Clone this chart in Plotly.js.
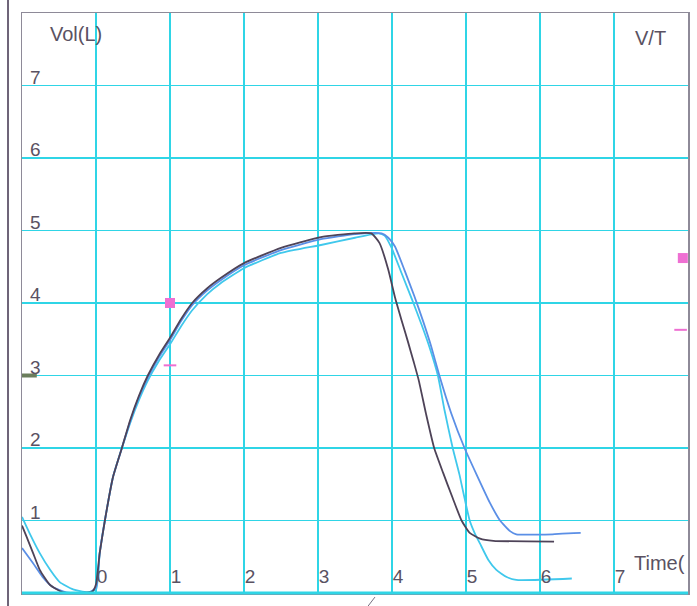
<!DOCTYPE html>
<html>
<head>
<meta charset="utf-8">
<script src="https://cdn.plot.ly/plotly-3.0.1.min.js"></script>
<style>html,body{margin:0;padding:0;background:#fff;}#chart{width:697px;height:606px;}</style>
</head>
<body>
<div id="chart"></div>
<script>
// ---- data (time in s, volume in L) ----
const darkX = [-1, -0.94, -0.85, -0.76, -0.62, -0.45, -0.2, -0.05, 0, 0.05, 0.12, 0.23, 0.35, 0.46, 0.58, 0.7, 0.85, 1.0, 1.15, 1.3, 1.5, 1.68, 2.0, 2.5, 2.77, 3.04, 3.49, 3.72, 3.83, 3.95, 4.04, 4.13, 4.22, 4.29, 4.36, 4.46, 4.57, 4.69, 4.82, 4.94, 5.05, 5.19, 5.37, 6.19];
const darkY = [0.93, 0.78, 0.55, 0.32, 0.11, 0.01, 0.0, 0.02, 0.12, 0.55, 1.0, 1.6, 2.0, 2.38, 2.72, 3.0, 3.28, 3.52, 3.78, 4.0, 4.2, 4.34, 4.55, 4.76, 4.84, 4.91, 4.96, 4.96, 4.83, 4.46, 4.08, 3.76, 3.45, 3.2, 2.94, 2.47, 2.0, 1.66, 1.31, 1.0, 0.83, 0.75, 0.72, 0.71];

const cyanX = [-1, -0.9, -0.76, -0.62, -0.49, -0.31, -0.12, 0, 0.05, 0.12, 0.23, 0.35, 0.46, 0.58, 0.7, 0.85, 1.0, 1.15, 1.3, 1.5, 1.68, 2.0, 2.5, 3.04, 3.5, 3.82, 3.9, 3.99, 4.13, 4.27, 4.4, 4.51, 4.62, 4.71, 4.82, 4.91, 4.98, 5.05, 5.12, 5.19, 5.3, 5.41, 5.55, 5.68, 6.43];
const cyanY = [1.05, 0.83, 0.55, 0.32, 0.15, 0.05, 0.01, 0.05, 0.55, 1.0, 1.6, 2.0, 2.34, 2.66, 2.93, 3.2, 3.43, 3.68, 3.9, 4.12, 4.27, 4.48, 4.69, 4.8, 4.9, 4.96, 4.93, 4.77, 4.41, 4.05, 3.7, 3.38, 3.0, 2.52, 2.0, 1.64, 1.31, 1.0, 0.82, 0.68, 0.46, 0.32, 0.22, 0.18, 0.2];

const blueX = [-1, -0.85, -0.72, -0.58, -0.4, -0.1, 0, 0.05, 0.12, 0.23, 0.35, 0.46, 0.58, 0.7, 0.85, 1.0, 1.15, 1.3, 1.5, 1.68, 2.0, 2.5, 3.04, 3.5, 3.86, 3.95, 4.04, 4.17, 4.3, 4.42, 4.53, 4.64, 4.8, 4.98, 5.14, 5.32, 5.46, 5.6, 5.68, 6.17, 6.3, 6.55];
const blueY = [0.62, 0.41, 0.22, 0.08, 0.01, 0.0, 0.08, 0.55, 1.0, 1.6, 2.0, 2.36, 2.7, 2.97, 3.25, 3.49, 3.75, 3.97, 4.17, 4.31, 4.52, 4.73, 4.88, 4.95, 4.96, 4.9, 4.78, 4.45, 4.1, 3.75, 3.4, 3.0, 2.48, 2.0, 1.64, 1.25, 1.0, 0.85, 0.81, 0.81, 0.82, 0.83];

const pinkSquareX = [1, 7.93];
const pinkSquareY = [4.0, 4.62];
const pinkDashX = [1, 7.9];
const pinkDashY = [3.14, 3.63];
const greenX = [-1, -0.8];
const greenY = [3, 3];

const xTicks = [0, 1, 2, 3, 4, 5, 6, 7];
const xTickText = ['0', '1', '2', '3', '4', '5', '6', '7'];
const yTicks = [1, 2, 3, 4, 5, 6, 7];
const yTickText = ['1', '2', '3', '4', '5', '6', '7'];

const textColor = '#5a5262';
const gridColor = '#2fd5e6';
const frameColor = '#8e8a98';
const FONT = 'Liberation Sans, Arial, sans-serif';

const curveLine = (c) => ({color: c, width: 1.8, shape: 'spline', smoothing: 0.5});

const traces = [
  {x: cyanX, y: cyanY, mode: 'lines', line: curveLine('#40c8ec'), hoverinfo: 'skip'},
  {x: blueX, y: blueY, mode: 'lines', line: curveLine('#5b8fe6'), hoverinfo: 'skip'},
  {x: darkX, y: darkY, mode: 'lines', line: curveLine('#4e4358'), hoverinfo: 'skip'},
  {x: pinkSquareX, y: pinkSquareY, mode: 'markers', marker: {symbol: 'square', size: 10, color: '#ee6fd2'}, cliponaxis: false, hoverinfo: 'skip'},
  {x: pinkDashX, y: pinkDashY, mode: 'markers', marker: {symbol: 'line-ew', size: 9, line: {color: '#ee6fd2', width: 2}}, cliponaxis: false, hoverinfo: 'skip'},
  {x: greenX, y: greenY, mode: 'lines', line: {color: '#6b7d5c', width: 4}, hoverinfo: 'skip'}
];

const layout = {
  width: 697, height: 606,
  margin: {l: 22, r: 9, t: 13, b: 13, pad: 0},
  paper_bgcolor: '#ffffff', plot_bgcolor: '#ffffff',
  showlegend: false,
  font: {family: FONT, color: textColor},
  xaxis: {
    range: [-1, 8], tickvals: xTicks, ticktext: xTickText,
    showgrid: true, gridcolor: gridColor, gridwidth: 1.6,
    zeroline: false, showline: true, mirror: true, linecolor: frameColor, linewidth: 1.5,
    ticks: '', ticklabelposition: 'inside right', ticklabelstandoff: 4,
    tickfont: {size: 19, color: textColor, family: FONT},
    fixedrange: true
  },
  yaxis: {
    range: [0, 8], tickvals: yTicks, ticktext: yTickText,
    showgrid: true, gridcolor: gridColor, gridwidth: 1.6,
    zeroline: false, showline: true, mirror: true, linecolor: frameColor, linewidth: 1.5,
    ticks: '', ticklabelposition: 'inside top', ticklabelstandoff: 8, ticklabelshift: 5,
    tickfont: {size: 19, color: textColor, family: FONT},
    fixedrange: true
  },
  shapes: [
    {type: 'line', xref: 'paper', yref: 'paper', x0: 0, x1: 1, y0: 0, y1: 0, line: {color: gridColor, width: 3}, layer: 'above'},
    {type: 'line', xref: 'paper', yref: 'paper', x0: -0.021, x1: -0.021, y0: -0.03, y1: 1.03, line: {color: '#6e6478', width: 2}},
    {type: 'line', xref: 'paper', yref: 'paper', x0: 0.518, x1: 0.530, y0: -0.025, y1: -0.007, line: {color: '#777080', width: 1}}
  ],
  annotations: [
    {text: 'Vol(L)', xref: 'paper', yref: 'paper', x: 0.039, y: 0.964, xanchor: 'left', yanchor: 'middle', showarrow: false, font: {size: 20, color: textColor, family: FONT}},
    {text: 'V/T', xref: 'paper', yref: 'paper', x: 0.917, y: 0.957, xanchor: 'left', yanchor: 'middle', showarrow: false, font: {size: 20, color: textColor, family: FONT}},
    {text: 'Time(', xref: 'paper', yref: 'paper', x: 0.916, y: 0.052, xanchor: 'left', yanchor: 'middle', showarrow: false, font: {size: 20, color: textColor, family: FONT}}
  ]
};

Plotly.newPlot('chart', traces, layout, {displayModeBar: false, staticPlot: true});
</script>
</body>
</html>
